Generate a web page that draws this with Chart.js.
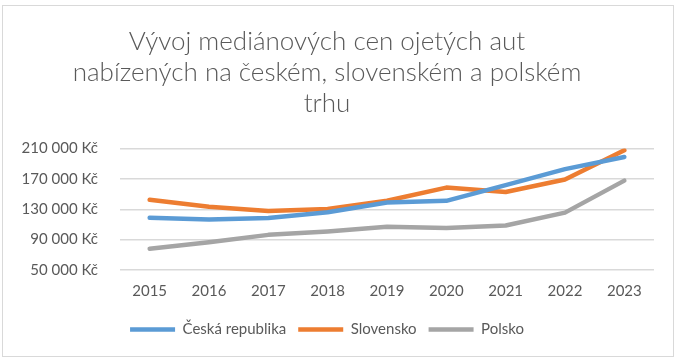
<!DOCTYPE html>
<html lang="cs">
<head>
    <meta charset="UTF-8">
    <title>Vývoj mediánových cen ojetých aut</title>
    <script src="https://cdn.jsdelivr.net/npm/chart.js"></script>
    <style>
        html, body {
            margin: 0;
            padding: 0;
            background: #ffffff;
        }
        .frame {
            position: absolute;
            left: 2px;
            top: 5px;
            width: 670px;
            height: 350px;
            border: 1.5px solid #d9d9d9;
        }
        .wrap {
            position: absolute;
            left: 0;
            top: 0;
            width: 680px;
            height: 363px;
        }
    </style>
</head>
<body>
    <div class="frame"></div>
    <div class="wrap"><canvas id="chart" width="680" height="363"></canvas></div>
    <script>
        const years = ['2015', '2016', '2017', '2018', '2019', '2020', '2021', '2022', '2023'];
        const ceskaRepublika = [118700, 116500, 118500, 126100, 138900, 141200, 161900, 182900, 199000];
        const slovensko = [142600, 133400, 127900, 130300, 141200, 158600, 152700, 169200, 207700];
        const polsko = [78000, 86700, 96300, 100900, 106900, 105500, 108700, 125600, 167800];
        const yTicks = [50000, 90000, 130000, 170000, 210000];

        const textColor = '#595959';
        const gridColor = '#d9d9d9';
        const fontFamily = 'Lato, "Open Sans", sans-serif';

        function formatKc(v) {
            return String(v).replace(/\B(?=(\d{3})+(?!\d))/g, ' ') + ' Kč';
        }

        function series(label, data, color) {
            return {
                label: label,
                data: data,
                borderColor: color,
                backgroundColor: color,
                borderWidth: 4.5,
                borderCapStyle: 'round',
                borderJoinStyle: 'round',
                pointRadius: 0,
                pointHoverRadius: 0,
                tension: 0,
                fill: false
            };
        }

        new Chart(document.getElementById('chart'), {
            type: 'line',
            data: {
                labels: years,
                datasets: [
                    series('Česká republika', ceskaRepublika, '#5b9bd5'),
                    series('Slovensko', slovensko, '#ed7d31'),
                    series('Polsko', polsko, '#a5a5a5')
                ]
            },
            options: {
                responsive: false,
                animation: false,
                layout: {
                    padding: { left: 0, right: 26, top: 12, bottom: 16 }
                },
                plugins: {
                    title: {
                        display: true,
                        text: ['Vývoj mediánových cen ojetých aut', 'nabízených na českém, slovenském a polském', 'trhu'],
                        color: textColor,
                        font: { family: fontFamily, size: 26, weight: '300', lineHeight: 1.2 },
                        padding: { top: 14, bottom: 29 }
                    },
                    legend: {
                        position: 'bottom',
                        labels: {
                            usePointStyle: true,
                            pointStyle: 'line',
                            pointStyleWidth: 45,
                            color: textColor,
                            font: { family: fontFamily, size: 15 },
                            padding: 12
                        }
                    },
                    tooltip: { enabled: false }
                },
                scales: {
                    x: {
                        offset: true,
                        grid: { display: false },
                        border: { display: false },
                        afterFit: function (scale) {
                            scale.height += 6;
                        },
                        ticks: {
                            color: textColor,
                            font: { family: fontFamily, size: 15 },
                            padding: 4,
                            maxRotation: 0
                        }
                    },
                    y: {
                        min: yTicks[0],
                        max: yTicks[yTicks.length - 1],
                        afterBuildTicks: function (scale) {
                            scale.ticks = yTicks.map(v => ({ value: v }));
                        },
                        afterFit: function (scale) {
                            scale.width = 120;
                        },
                        grid: { color: gridColor, lineWidth: 1.5, drawTicks: false },
                        border: { display: false },
                        ticks: {
                            color: textColor,
                            font: { family: fontFamily, size: 15 },
                            padding: 22,
                            callback: function (v) { return formatKc(v); }
                        }
                    }
                }
            }
        });
    </script>
</body>
</html>
